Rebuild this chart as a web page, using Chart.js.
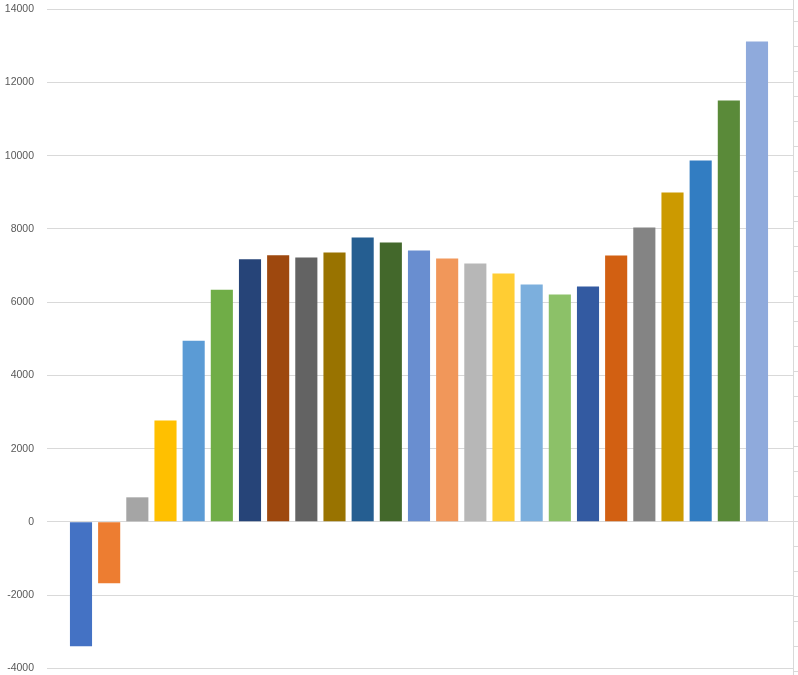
<!DOCTYPE html>
<html>
<head>
<meta charset="utf-8">
<script src="https://cdn.jsdelivr.net/npm/chart.js@4/dist/chart.umd.min.js"></script>
<style>
  html, body { margin: 0; padding: 0; background: #ffffff; }
  #wrap { position: relative; width: 798px; height: 675px; }
</style>
</head>
<body>
<div id="wrap"><canvas id="c"></canvas></div>
<script>
// ---- data ----
const categories = [1, 2, 3, 4, 5, 6, 7, 8, 9, 10, 11, 12, 13, 14, 15, 16, 17, 18, 19, 20, 21, 22, 23, 24, 25];
const values = [-3400, -1680, 670, 2770, 4950, 6340, 7170, 7285, 7220, 7360, 7770, 7630, 7410,
                7195, 7055, 6785, 6485, 6210, 6430, 7275, 8040, 8995, 9870, 11510, 13120];
const barColors = ["#4472C4", "#ED7D31", "#A5A5A5", "#FFC000", "#5B9BD5", "#70AD47",
                   "#264478", "#9E480E", "#636363", "#997300", "#255E91", "#43682B",
                   "#698ED0", "#F1975A", "#B7B7B7", "#FFCD33", "#7CAFDD", "#8CC168",
                   "#335AA1", "#D26012", "#848484", "#CC9A00", "#327DC2", "#5A8A39", "#8FAADC"];
const yTickValues = [-4000, -2000, 0, 2000, 4000, 6000, 8000, 10000, 12000, 14000];
const rightTickValues = [-6, -5, -4, -3, -2, -1, 0, 1, 2, 3, 4, 5, 6, 7, 8, 9, 10, 11, 12, 13, 14, 15, 16, 17, 18, 19, 20];

const points = categories.map((c, i) => ({ x: i, y: values[i] }));

new Chart(document.getElementById('c'), {
  type: 'bar',
  data: {
    datasets: [{
      data: points,
      backgroundColor: barColors,
      borderWidth: 0,
      categoryPercentage: 1,
      barPercentage: 0.785,
      yAxisID: 'y'
    }]
  },
  options: {
    responsive: true,
    maintainAspectRatio: false,
    animation: false,
    layout: { padding: 0 },
    plugins: { legend: { display: false }, tooltip: { enabled: false } },
    scales: {
      x: {
        type: 'linear',
        display: false,
        offset: false,
        min: -1.207,
        max: 25.278
      },
      y: {
        position: 'left',
        min: -4183,
        max: 14254,
        afterBuildTicks: s => { s.ticks = yTickValues.map(v => ({ value: v })); },
        afterFit: s => { s.width = 47; s.paddingTop = 0; s.paddingBottom = 0; },
        border: { display: false },
        grid: { color: '#d9d9d9', lineWidth: 1, drawTicks: false },
        ticks: {
          padding: 13,
          color: '#595959',
          font: { family: '"Liberation Sans", Arial, sans-serif', size: 10.5 },
          callback: v => String(v)
        }
      },
      y2: {
        position: 'right',
        min: -6.14,
        max: 20.86,
        afterBuildTicks: s => { s.ticks = rightTickValues.map(v => ({ value: v })); },
        afterFit: s => { s.width = 5; s.paddingTop = 0; s.paddingBottom = 0; },
        border: { display: true, color: '#d9d9d9', width: 1 },
        grid: { drawOnChartArea: false, drawTicks: true, tickLength: 5, color: '#d9d9d9', lineWidth: 1 },
        ticks: { display: false }
      }
    }
  }
});
</script>
</body>
</html>
